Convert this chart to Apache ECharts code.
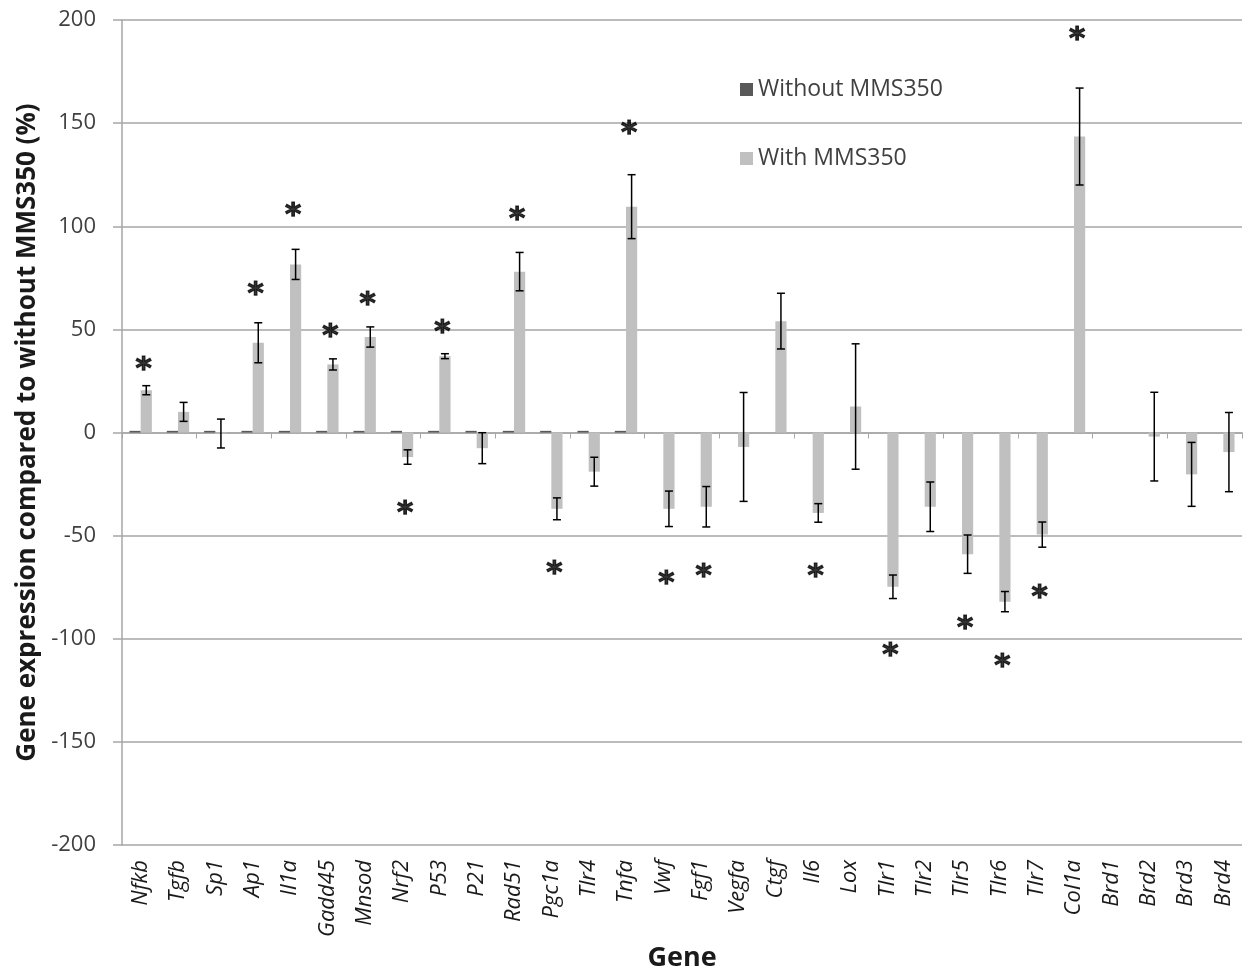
<!DOCTYPE html>
<html>
<head>
<meta charset="utf-8">
<script src="https://cdn.jsdelivr.net/npm/echarts@6/dist/echarts.min.js"></script>
<style>
html,body{margin:0;padding:0;background:#fff;}
#chart{width:1249px;height:971px;}
</style>
</head>
<body>
<div id="chart"></div>
<script>
const categories = ['Nfkb','Tgfb','Sp1','Ap1','Il1a','Gadd45','Mnsod','Nrf2','P53','P21','Rad51','Pgc1a','Tlr4','Tnfa','Vwf','Fgf1','Vegfa','Ctgf','Il6','Lox','Tlr1','Tlr2','Tlr5','Tlr6','Tlr7','Col1a','Brd1','Brd2','Brd3','Brd4'];
const withoutValues = [0.8,0.8,0.8,0.8,0.8,0.8,0.8,0.8,0.8,0.8,0.8,0.8,0.8,0.8,0,0,0,0,0,0,0,0,0,0,0,0,0,0,0,0];
const withValues = [20.5,10,-0.5,43.5,81.5,33,46.3,-11.9,37,-7.6,78,-37,-19,109.5,-37,-36,-7,54,-39,12.6,-74.8,-36,-59,-82,-49.5,143.5,null,-2,-20.3,-9.5];
const withErrors = [2.2,4.6,7,9.7,7.3,2.7,4.9,3.5,1.2,7.5,9.3,5.3,7,15.5,8.6,9.8,26.4,13.5,4.5,30.4,5.7,12,9.3,4.9,6.1,23.5,null,21.5,15.5,19.2];
const starValues = [33,null,null,69.7,107.7,49.4,64.9,-36.4,51,null,106,-65.6,null,147.8,-70.4,-67.2,null,null,-67,null,-105.4,null,-92.4,-110.8,-77.3,193.3,null,null,null,null];
const yTicks = {min:-200, max:200, interval:50};

const errData = [];
withValues.forEach((v,i)=>{ if(v!=null && withErrors[i]!=null) errData.push([i, v-withErrors[i], v+withErrors[i]]); });
const starData = [];
starValues.forEach((v,i)=>{ if(v!=null) starData.push([i, v]); });

const chart = echarts.init(document.getElementById('chart'), null, {renderer:'canvas'});
const gridColor = '#a6a6a6';
const textColor = '#404040';
chart.setOption({
  backgroundColor:'#fff',
  animation:false,
  textStyle:{fontFamily:'Open Sans'},
  grid:{left:122, right:7, top:20, bottom:126, outerBoundsMode:'none', containLabel:false},
  legend:{
    data:['Without MMS350','With MMS350'],
    orient:'vertical', left:735, top:73,
    itemWidth:13, itemHeight:13, itemGap:46, icon:'rect',
    textStyle:{fontSize:23, color:textColor, fontFamily:'Open Sans'}
  },
  xAxis:[{
    type:'category', data:categories, position:'bottom',
    axisLine:{show:false, onZero:false},
    axisTick:{show:false},
    axisLabel:{interval:0, rotate:90, fontSize:22, fontStyle:'italic', color:'#1a1a1a', margin:15, fontFamily:'Open Sans'},
    name:'Gene', nameLocation:'middle', nameGap:98,
    nameTextStyle:{fontSize:27, fontWeight:'bold', color:'#1a1a1a', fontFamily:'Open Sans'},
    splitLine:{show:false}
  },{
    type:'category', data:categories, position:'bottom',
    axisLine:{show:true, onZero:true, lineStyle:{color:gridColor, width:1.5}},
    axisTick:{show:true, length:6, lineStyle:{color:gridColor}},
    axisLabel:{show:false},
    splitLine:{show:false}
  }],
  yAxis:{
    type:'value', min:yTicks.min, max:yTicks.max, interval:yTicks.interval,
    axisLine:{show:true, lineStyle:{color:gridColor, width:1.5}},
    axisTick:{show:true, length:9, lineStyle:{color:gridColor, width:1.5}},
    axisLabel:{fontSize:22, color:textColor, margin:26, fontFamily:'Open Sans'},
    splitLine:{show:true, lineStyle:{color:gridColor, width:1.5}},
    name:'Gene expression compared to without MMS350 (%)', nameLocation:'middle', nameGap:76,
    nameTextStyle:{fontSize:26, fontWeight:'bold', color:'#1a1a1a', fontFamily:'Open Sans'}
  },
  series:[{
    name:'Without MMS350', type:'bar', data:withoutValues, barWidth:'30%', barGap:'0%',
    itemStyle:{color:'#595959'}
  },{
    name:'With MMS350', type:'bar', data:withValues, barWidth:'30%', barGap:'0%',
    itemStyle:{color:'#c0c0c0'}
  },{
    type:'custom', name:'err', data:errData, encode:{x:0, y:[1,2]}, z:10,
    renderItem:function(params, api){
      const i = api.value(0);
      const lo = api.coord([i, api.value(1)]);
      const hi = api.coord([i, api.value(2)]);
      const band = api.size([1,0])[0];
      const x = lo[0] + band*0.15;
      const cap = 4;
      const st = {stroke:'#000', lineWidth:1.5};
      return {type:'group', children:[
        {type:'line', shape:{x1:x, y1:hi[1], x2:x, y2:lo[1]}, style:st},
        {type:'line', shape:{x1:x-cap, y1:hi[1], x2:x+cap, y2:hi[1]}, style:st},
        {type:'line', shape:{x1:x-cap, y1:lo[1], x2:x+cap, y2:lo[1]}, style:st}
      ]};
    }
  },{
    type:'scatter', name:'sig', data:starData, symbolSize:1, itemStyle:{color:'rgba(0,0,0,0)'}, z:11,
    label:{show:true, position:'inside', formatter:'*', fontSize:31, fontWeight:'bold', color:'#000', textBorderColor:'#000', textBorderWidth:1.2, offset:[3,6], fontFamily:'DejaVu Sans'}
  }]
});
</script>
</body>
</html>
